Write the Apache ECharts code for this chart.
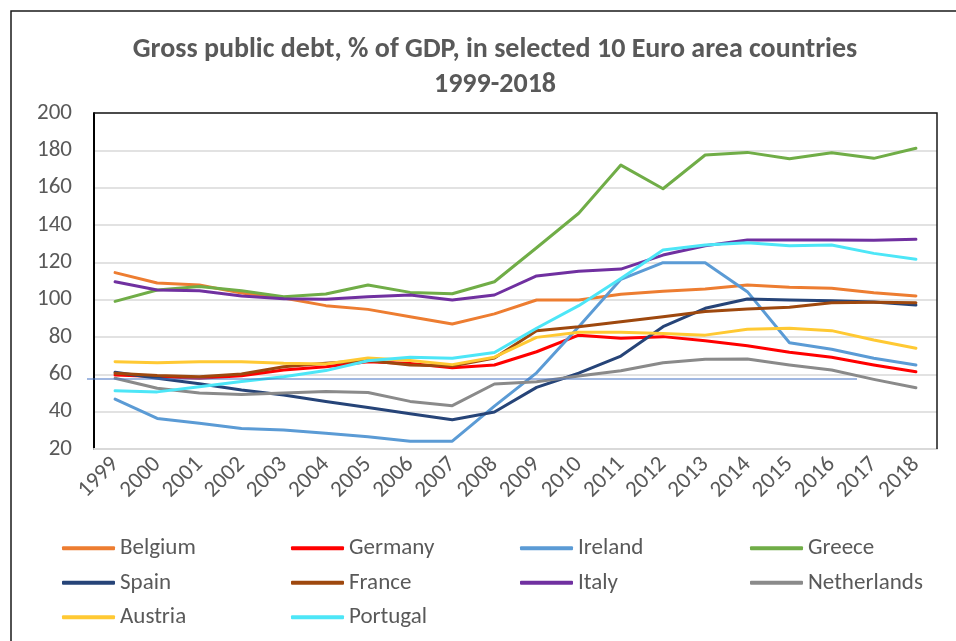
<!DOCTYPE html>
<html>
<head>
<meta charset="utf-8">
<script src="https://cdn.jsdelivr.net/npm/echarts@6/dist/echarts.min.js"></script>
<style>
html,body{margin:0;padding:0;background:#fff;}
#chart{width:956px;height:641px;}
</style>
</head>
<body>
<div id="chart"></div>
<script>
var years = ['1999','2000','2001','2002','2003','2004','2005','2006','2007','2008','2009','2010','2011','2012','2013','2014','2015','2016','2017','2018'];
var belgium = [114.5,108.9,107.9,103.5,100.9,96.8,94.8,90.9,87.0,92.4,99.8,99.8,102.9,104.5,105.7,107.9,106.6,106.1,103.7,102.0];
var germany = [59.6,58.9,57.9,59.3,62.3,64.1,66.8,65.8,63.5,65.0,72.1,81.0,79.3,80.2,78.0,75.3,71.8,69.1,65.0,61.4];
var ireland = [46.7,36.4,33.8,31.0,30.2,28.4,26.6,24.2,24.2,43.0,60.8,85.5,110.9,119.8,119.8,104.3,76.9,73.4,68.6,65.0];
var greece = [99.1,105.2,107.0,104.8,101.6,103.0,107.9,103.9,103.2,109.6,127.8,146.3,172.1,159.4,177.5,178.9,175.5,178.7,175.7,181.1];
var spain = [61.1,57.9,55.0,51.6,48.9,45.5,42.2,38.9,35.7,39.8,53.0,60.6,69.8,85.5,95.4,100.4,99.8,99.4,98.8,97.1];
var france = [60.6,59.4,58.7,60.2,64.1,65.9,67.4,65.0,64.5,68.7,83.4,85.5,88.2,90.9,93.6,95.0,95.9,98.4,98.6,98.4];
var italy = [109.6,105.2,104.8,102.0,100.5,100.2,101.6,102.5,99.8,102.5,112.7,115.2,116.4,123.9,128.9,132.0,132.0,131.9,131.8,132.3];
var netherlands = [57.9,52.5,50.0,49.2,50.0,50.8,50.3,45.5,43.2,54.8,56.0,59.1,61.9,66.2,68.1,68.2,65.0,62.3,57.3,52.8];
var austria = [66.8,66.2,66.7,66.8,65.9,65.5,68.7,67.4,65.2,69.2,79.8,82.5,82.5,81.9,81.0,84.1,84.7,83.4,78.4,74.0];
var portugal = [51.2,50.6,53.4,56.2,58.7,62.0,67.3,69.1,68.6,71.7,84.7,96.8,111.4,126.6,129.3,130.5,128.9,129.3,124.8,121.6];
var referenceLevel = 57.5;
var yTicks = {min:20, max:200, interval:20};

var names = ['Belgium','Germany','Ireland','Greece','Spain','France','Italy','Netherlands','Austria','Portugal'];
var values = [belgium,germany,ireland,greece,spain,france,italy,netherlands,austria,portugal];
var colors = ['#ED7D31','#FF0000','#5B9BD5','#70AD47','#264478','#9E480E','#7030A0','#8A8A8A','#FFC933','#4DE6F7'];

var FONT = 'Carlito, Lato, sans-serif';
var TXT = '#595959';
var G = {left:94, top:113, right:19, bottom:192};

var chart = echarts.init(document.getElementById('chart'));

function legendCol(left, items){
  return {
    orient:'vertical', left:left, top:529, itemWidth:53, itemHeight:4, itemGap:6,
    data:items, icon:'roundRect',
    textStyle:{fontFamily:FONT, fontSize:23, color:TXT, lineHeight:28.5},
    selectedMode:false
  };
}

var series = names.map(function(n,i){
  return {
    name:n, type:'line', data:values[i], symbol:'none', smooth:false,
    lineStyle:{width:3, color:colors[i], cap:'round', join:'round'},
    itemStyle:{color:colors[i]},
    z: 2 + i, animation:false
  };
});

chart.setOption({
  animation:false,
  backgroundColor:'#fff',
  textStyle:{fontFamily:FONT},
  title:{
    text:'Gross public debt, % of GDP, in selected 10 Euro area countries\n1999-2018',
    left:490, top:27, textAlign:'center',
    textStyle:{fontFamily:FONT, fontSize:28, fontWeight:'bold', color:TXT, lineHeight:35}
  },
  legend:[
    legendCol(57,['Belgium','Spain','Austria']),
    legendCol(286,['Germany','France','Portugal']),
    legendCol(515,['Ireland','Italy']),
    legendCol(745,['Greece','Netherlands'])
  ],
  grid:{left:G.left, top:G.top, right:G.right, bottom:G.bottom, containLabel:false},
  xAxis:{
    type:'category', data:years, boundaryGap:true,
    axisLine:{show:true, lineStyle:{color:'#D9D9D9', width:2}},
    axisTick:{show:false},
    axisLabel:{rotate:45, fontSize:23, color:TXT, fontFamily:FONT, margin:12, interval:0}
  },
  yAxis:{
    type:'value', min:yTicks.min, max:yTicks.max, interval:yTicks.interval,
    axisLine:{show:true, lineStyle:{color:'#000', width:2}},
    axisTick:{show:false},
    axisLabel:{fontSize:23, color:TXT, fontFamily:FONT, margin:22},
    splitLine:{show:true, lineStyle:{color:'#D9D9D9', width:1.5}}
  },
  series:series
});

var yRef = chart.convertToPixel({gridIndex:0}, [0, referenceLevel])[1];
var W = 956, H = 641;
chart.setOption({
  graphic:[
    {type:'rect', shape:{x:11, y:11, width:1000, height:1000}, style:{fill:null, stroke:'#1a1a1a', lineWidth:1.5}, silent:true, z:100},
    {type:'polyline', shape:{points:[[G.left,G.top],[W-G.right,G.top],[W-G.right,H-G.bottom]]}, style:{fill:null, stroke:'#1a1a1a', lineWidth:1.5}, silent:true, z:100},
    {type:'line', shape:{x1:87, y1:yRef, x2:857, y2:yRef}, style:{stroke:'#4472C4', lineWidth:1.2}, silent:true, z:100}
  ]
});
</script>
</body>
</html>
